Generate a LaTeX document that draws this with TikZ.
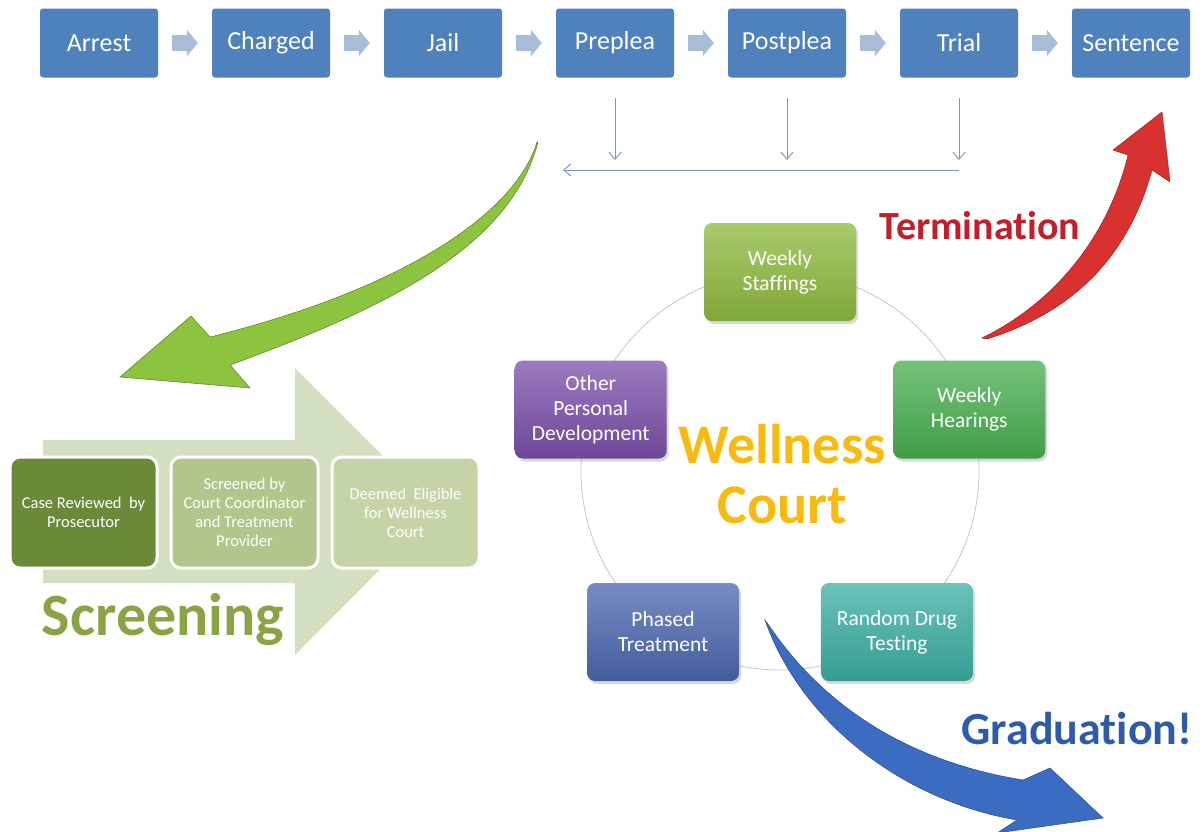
\documentclass[tikz,border=0pt]{standalone}
\usepackage{fontspec}
\setmainfont{Carlito}[Ligatures=NoCommon, RawFeature={-clig}]
\usetikzlibrary{positioning,arrows.meta,shadows}

\definecolor{stageblue}{HTML}{4F81BD}
\definecolor{chevblue}{HTML}{A9BCD8}
\definecolor{lineblue}{HTML}{7F96BE}
\definecolor{screenbg}{HTML}{D3DFC1}
\definecolor{scrA}{HTML}{6A8A3A}
\definecolor{scrB}{HTML}{B2C68C}
\definecolor{scrC}{HTML}{C4D4A6}
\definecolor{scrtext}{HTML}{8AA445}
\definecolor{greenarr}{HTML}{8DC43F}
\definecolor{redarr}{HTML}{D9312F}
\definecolor{termred}{HTML}{C41E2A}
\definecolor{bluearr}{HTML}{3B6CC2}
\definecolor{gradblue}{HTML}{2D5BAA}
\definecolor{gold}{HTML}{F8BA10}
\definecolor{staff}{HTML}{8DBA3E}
\definecolor{hear}{HTML}{47AE4F}
\definecolor{drug}{HTML}{3AAEA2}
\definecolor{phase}{HTML}{4A66AE}
\definecolor{other}{HTML}{7A4FA9}

\tikzset{
  stage/.style={fill=stageblue, text=white, rounded corners=3pt, minimum width=118pt, minimum height=69pt, font=\fontsize{26}{30}\selectfont},
  chevron/.style={chevblue, line width=16pt, shorten <=14pt, shorten >=14pt, -{Triangle[length=11pt,width=26pt]}},
  thinarrow/.style={lineblue, line width=1pt, -{Straight Barb[length=7pt,width=12pt]}},
  scrbox/.style={draw=white, line width=3pt, rounded corners=10pt, text=white, minimum width=147pt, minimum height=111pt, align=center, font=\fontsize{16.5}{19}\selectfont},
  cycbox/.style={rounded corners=8pt, minimum width=152pt, minimum height=98pt, text=white, align=center, font=\fontsize{21.5}{25}\selectfont, drop shadow={opacity=0.3, shadow xshift=2pt, shadow yshift=-3pt}, top color=#1!75!white, bottom color=#1!90!black},
  bigword/.style={font=\fontsize{#1}{#1}\selectfont\bfseries}
}

\begin{document}
\begin{tikzpicture}[x=1pt, y=-1pt]
  \useasboundingbox (0,0) rectangle (1203,831);

  \foreach \id/\txt [count=\i] in {arrest/Arrest, charged/Charged, jail/Jail, preplea/Preplea, postplea/Postplea, trial/Trial, sentence/Sentence}
    \node[stage] (\id) at ({99+172*(\i-1)},43) {\txt};
  \foreach \a/\b in {arrest/charged, charged/jail, jail/preplea, preplea/postplea, postplea/trial, trial/sentence}
    \draw[chevron] (\a) -- (\b);

  \coordinate (drop) at (0,160);
  \coordinate (back) at (563,170);
  \foreach \id in {preplea, postplea, trial}
    \draw[thinarrow, shorten <=20pt] (\id.south) -- (\id.south |- drop);
  \draw[thinarrow] (trial.south |- back) -- (back);

  \fill[screenbg] (43,440) -- (295,440) -- (295,368) -- (438,511) -- (295,655) -- (295,583) -- (43,583) -- cycle;
  \node[scrbox, fill=scrA] (review) at (83.5,512.5) {Case Reviewed\ \ by\\Prosecutor};
  \node[scrbox, fill=scrB, right=11pt of review] (screened) {Screened by\\Court Coordinator\\and Treatment\\Provider};
  \node[scrbox, fill=scrC, right=11pt of screened] (eligible) {Deemed\ \ Eligible\\for Wellness\\Court};
  \node[bigword=60, text=scrtext] (screening) at (163,620) {Screening};

  \filldraw[fill=greenarr, draw=greenarr!70!black, line width=0.6pt]
    (537,142) .. controls (515,215) and (400,290) .. (210,337) -- (191,316) -- (120,377) -- (250,388) -- (230,365)
    .. controls (380,310) and (510,250) .. (538,142) -- cycle;

  \draw[gray!45, line width=0.8pt] (780,471) circle (199pt);
  \foreach \id/\col/\txt [count=\i] in {staffings/staff/{Weekly\\Staffings}, hearings/hear/{Weekly\\Hearings}, testing/drug/{Random Drug\\Testing}, treatment/phase/{Phased\\Treatment}, personal/other/{Other\\Personal\\Development}}
    \node[cycbox=\col] (\id) at ({780+199*sin(72*(\i-1))},{471-199*cos(72*(\i-1))}) {\txt};
  \node[bigword=56, text=gold, align=center] (wellness) at (782,474) {Wellness\\[4pt]Court};

  \filldraw[fill=redarr, draw=redarr!70!black, line width=0.5pt]
    (982,338) .. controls (1060,300) and (1110,230) .. (1128,155) -- (1113,150) -- (1162,112) -- (1170,182) -- (1152,170)
    .. controls (1130,250) and (1080,310) .. (987,339) -- cycle;
  \node[bigword=40, text=termred] (termination) at (980,226) {Termination};

  \filldraw[fill=bluearr, draw=bluearr!70!black, line width=0.5pt]
    (765,620) .. controls (800,720) and (900,800) .. (1017,820) -- (997,833) -- (1103,818) -- (1050,768) -- (1023,780)
    .. controls (900,760) and (820,700) .. (770,627) -- cycle;
  \node[bigword=46, text=gradblue] (graduation) at (1077,729) {Graduation!};
\end{tikzpicture}
\end{document}
